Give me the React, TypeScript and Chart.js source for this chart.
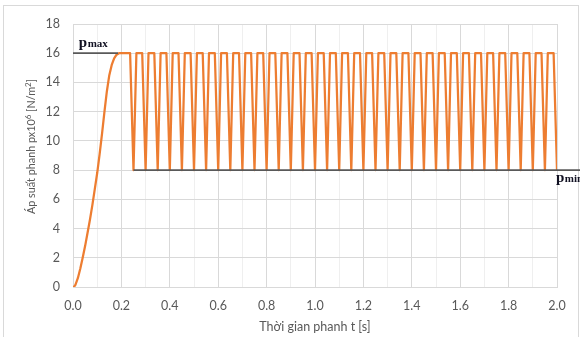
import React, { useEffect, useRef } from "react";
import { Chart, registerables } from "chart.js";

Chart.register(...registerables);

// Brake pressure curve: time [s] and pressure [x10^6 N/m^2]
const timeS: number[] = [
  0, 0.005, 0.01, 0.02, 0.03, 0.04, 0.05, 0.06, 0.07, 0.08, 0.09, 0.1,
  0.11, 0.12, 0.13, 0.14, 0.15, 0.16, 0.17, 0.18, 0.19, 0.236,
  0.25, 0.262, 0.286,
  0.30, 0.312, 0.336,
  0.35, 0.362, 0.386,
  0.40, 0.412, 0.436,
  0.45, 0.462, 0.486,
  0.50, 0.512, 0.536,
  0.55, 0.562, 0.586,
  0.60, 0.612, 0.636,
  0.65, 0.662, 0.686,
  0.70, 0.712, 0.736,
  0.75, 0.762, 0.786,
  0.80, 0.812, 0.836,
  0.85, 0.862, 0.886,
  0.90, 0.912, 0.936,
  0.95, 0.962, 0.986,
  1.00, 1.012, 1.036,
  1.05, 1.062, 1.086,
  1.10, 1.112, 1.136,
  1.15, 1.162, 1.186,
  1.20, 1.212, 1.236,
  1.25, 1.262, 1.286,
  1.30, 1.312, 1.336,
  1.35, 1.362, 1.386,
  1.40, 1.412, 1.436,
  1.45, 1.462, 1.486,
  1.50, 1.512, 1.536,
  1.55, 1.562, 1.586,
  1.60, 1.612, 1.636,
  1.65, 1.662, 1.686,
  1.70, 1.712, 1.736,
  1.75, 1.762, 1.786,
  1.80, 1.812, 1.836,
  1.85, 1.862, 1.886,
  1.90, 1.912, 1.936,
  1.95, 1.962, 1.986,
  2.00,
];

const pressure: number[] = [
  0, 0.03, 0.15, 0.6, 1.25, 2.0, 2.8, 3.7, 4.6, 5.6, 6.7, 7.8,
  9.1, 10.5, 12.0, 13.4, 14.5, 15.2, 15.65, 15.9, 16, 16,
  8, 16, 16,
  8, 16, 16,
  8, 16, 16,
  8, 16, 16,
  8, 16, 16,
  8, 16, 16,
  8, 16, 16,
  8, 16, 16,
  8, 16, 16,
  8, 16, 16,
  8, 16, 16,
  8, 16, 16,
  8, 16, 16,
  8, 16, 16,
  8, 16, 16,
  8, 16, 16,
  8, 16, 16,
  8, 16, 16,
  8, 16, 16,
  8, 16, 16,
  8, 16, 16,
  8, 16, 16,
  8, 16, 16,
  8, 16, 16,
  8, 16, 16,
  8, 16, 16,
  8, 16, 16,
  8, 16, 16,
  8, 16, 16,
  8, 16, 16,
  8, 16, 16,
  8, 16, 16,
  8, 16, 16,
  8, 16, 16,
  8, 16, 16,
  8,
];

// Reference lines p_max and p_min
const pmaxT: number[] = [0, 0.186];
const pmaxP: number[] = [16, 16];
const pminT: number[] = [0.25, 2.1];
const pminP: number[] = [8, 8];

// Axis settings / labels
const xMin = 0;
const xMax = 2;
const yMin = 0;
const yMax = 18;
const yStep = 2;
const xTitle = "Thời gian phanh t [s]";
// y title pieces: [text, superscript?]
const yTitleParts: [string, boolean][] = [
  ["Áp suất phanh px10", false],
  ["6", true],
  [" [N/m", false],
  ["2", true],
  ["]", false],
];

const FONT = "Lato, 'Open Sans', sans-serif";
const GRID = "#d9d9d9";
const GRID_MINOR = "#efefef";
const TEXT = "#595959";

const toXY = (xs: number[], ys: number[]) => xs.map((x, i) => ({ x, y: ys[i] }));

const frame = {
  id: "frame",
  beforeDraw(chart: any) {
    const { ctx } = chart;
    ctx.save();
    ctx.fillStyle = "#ffffff";
    ctx.fillRect(0, 0, chart.width, chart.height);
    ctx.strokeStyle = "#d9d9d9";
    ctx.lineWidth = 1;
    ctx.strokeRect(3.5, 5.5, 575, 340);
    ctx.restore();
  },
};

const yTitlePlugin = {
  id: "yTitlePlugin",
  afterDraw(chart: any) {
    const { ctx } = chart;
    const area = chart.chartArea;
    const normal = `10.8px ${FONT}`;
    const small = `8px ${FONT}`;
    ctx.save();
    let total = 0;
    for (const [t, sup] of yTitleParts) {
      ctx.font = sup ? small : normal;
      total += ctx.measureText(t).width;
    }
    const cy = (area.top + area.bottom) / 2 - 9;
    ctx.translate(35, cy);
    ctx.rotate(-Math.PI / 2);
    ctx.fillStyle = TEXT;
    ctx.textBaseline = "alphabetic";
    ctx.textAlign = "left";
    let x = -total / 2;
    for (const [t, sup] of yTitleParts) {
      ctx.font = sup ? small : normal;
      ctx.fillText(t, x, sup ? -4.5 : 0);
      x += ctx.measureText(t).width;
    }
    ctx.restore();
  },
};

const refLabels = {
  id: "refLabels",
  afterDatasetsDraw(chart: any) {
    const { ctx } = chart;
    const xs = chart.scales.x;
    const ys = chart.scales.y;
    const draw = (main: string, sub: string, x: number, y: number) => {
      ctx.save();
      ctx.fillStyle = "#111122";
      ctx.textBaseline = "alphabetic";
      ctx.textAlign = "left";
      ctx.font = "bold 15px 'Liberation Serif', 'DejaVu Serif', serif";
      ctx.fillText(main, x, y);
      const w = ctx.measureText(main).width;
      ctx.font = "bold 11px 'Liberation Serif', 'DejaVu Serif', serif";
      ctx.fillText(sub, x + w + 0.5, y);
      ctx.restore();
    };
    draw("p", "max", xs.getPixelForValue(0.024), ys.getPixelForValue(16) - 6);
    draw("p", "min", xs.getPixelForValue(1.996), ys.getPixelForValue(8) + 12);
  },
};

export default function App() {
  const ref = useRef<HTMLCanvasElement | null>(null);

  useEffect(() => {
    document.body.style.margin = "0";
    if (!ref.current) return;
    const chart = new Chart(ref.current, {
      type: "scatter",
      data: {
        datasets: [
          {
            data: toXY(timeS, pressure),
            showLine: true,
            borderColor: "#ED7D31",
            backgroundColor: "#ED7D31",
            borderWidth: 2.25,
            pointRadius: 0,
            tension: 0,
            borderJoinStyle: "round",
            order: 2,
          },
          {
            data: toXY(pmaxT, pmaxP),
            showLine: true,
            borderColor: "#595959",
            borderWidth: 1.75,
            pointRadius: 0,
            order: 1,
          },
          {
            data: toXY(pminT, pminP),
            showLine: true,
            borderColor: "#595959",
            borderWidth: 1.75,
            pointRadius: 0,
            clip: false as any,
            order: 1,
          },
        ],
      },
      options: {
        animation: false,
        responsive: false,
        layout: { padding: { left: 0, top: 24, right: 23, bottom: 0 } },
        plugins: {
          legend: { display: false },
          tooltip: { enabled: false },
        },
        scales: {
          x: {
            type: "linear",
            min: xMin,
            max: xMax,
            afterFit(scale: any) {
              scale.height = 50;
            },
            border: { display: true, color: GRID },
            grid: {
              drawTicks: false,
              color: (c: any) =>
                Math.round(c.tick.value * 10) % 2 === 0 ? GRID : GRID_MINOR,
            },
            ticks: {
              stepSize: 0.1,
              autoSkip: false,
              maxRotation: 0,
              padding: 11,
              color: TEXT,
              font: { family: FONT, size: 12.5 },
              callback: (v: any) => {
                const n = Math.round(Number(v) * 10);
                return n % 2 === 0 ? (n / 10).toFixed(1) : "";
              },
            },
            title: {
              display: true,
              text: xTitle,
              color: TEXT,
              font: { family: FONT, size: 12.5 },
              padding: { top: 0, bottom: 3 },
            },
          },
          y: {
            type: "linear",
            min: yMin,
            max: yMax,
            afterFit(scale: any) {
              scale.width = 73;
            },
            border: { display: true, color: GRID },
            grid: { drawTicks: false, color: GRID },
            ticks: {
              stepSize: yStep,
              padding: 13,
              color: TEXT,
              font: { family: FONT, size: 12.5 },
            },
          },
        },
      },
      plugins: [frame, refLabels, yTitlePlugin],
    });
    return () => chart.destroy();
  }, []);

  return (
    <div style={{ width: 580, height: 337 }}>
      <canvas ref={ref} width={580} height={337} style={{ display: "block" }} />
    </div>
  );
}
